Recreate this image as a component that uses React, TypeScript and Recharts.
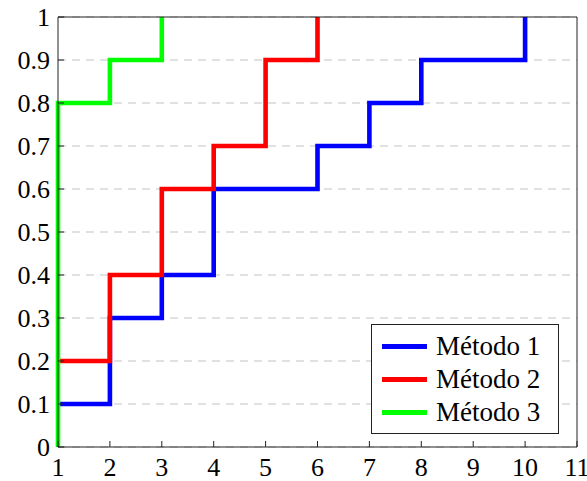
import { CartesianGrid, Line, LineChart, XAxis, YAxis } from 'recharts'

const xTicks = [1, 2, 3, 4, 5, 6, 7, 8, 9, 10, 11]
const yTicks = [0, 0.1, 0.2, 0.3, 0.4, 0.5, 0.6, 0.7, 0.8, 0.9, 1]

const metodo1X = [1, 2, 3, 4, 5, 6, 7, 8, 9, 10]
const metodo1Y = [0.1, 0.3, 0.4, 0.6, 0.6, 0.7, 0.8, 0.9, 0.9, 1]
const metodo2X = [1, 2, 3, 4, 5, 6]
const metodo2Y = [0.2, 0.4, 0.6, 0.7, 0.9, 1]
const metodo3X = [1, 1, 2, 3]
const metodo3Y = [0, 0.8, 0.9, 1]

const toPoints = (xs: number[], ys: number[]) => xs.map((x, i) => ({ x, y: ys[i] }))

const series = [
  { name: 'Método 1', color: '#0000ff', data: toPoints(metodo1X, metodo1Y) },
  { name: 'Método 2', color: '#ff0000', data: toPoints(metodo2X, metodo2Y) },
  { name: 'Método 3', color: '#00ff00', data: toPoints(metodo3X, metodo3Y) },
]

const font = '"Liberation Serif", serif'
const blank = () => ''

function LegendBox() {
  return (
    <div
      style={{
        position: 'absolute',
        left: 371,
        top: 324,
        width: 188,
        height: 110,
        boxSizing: 'border-box',
        border: '1px solid #222',
        background: '#fff',
        padding: '5px 0 0 10px',
        fontFamily: font,
        fontSize: 27,
        color: '#000',
        lineHeight: '33px',
      }}
    >
      {series.map((s) => (
        <div key={s.name} style={{ display: 'flex', alignItems: 'center' }}>
          <span style={{ display: 'inline-block', width: 45, height: 5, background: s.color, marginRight: 9 }} />
          <span>{s.name}</span>
        </div>
      ))}
    </div>
  )
}

export default function App() {
  return (
    <div style={{ position: 'absolute', left: 0, top: 0, width: 587, height: 481, background: '#fff' }}>
      <LineChart width={587} height={481} margin={{ top: 16, right: 9, bottom: 0, left: 0 }}>
        <CartesianGrid vertical={false} stroke="#c4c4c4" strokeDasharray="8 6" strokeWidth={1.2} />
        <XAxis
          xAxisId="top"
          orientation="top"
          type="number"
          dataKey="x"
          domain={[1, 11]}
          ticks={xTicks}
          interval={0}
          height={1}
          tickSize={-6}
          tickFormatter={blank}
          stroke="#222"
        />
        <YAxis
          yAxisId="right"
          orientation="right"
          type="number"
          domain={[0, 1]}
          ticks={yTicks}
          interval={0}
          width={1}
          tickSize={-6}
          tickFormatter={blank}
          stroke="#222"
        />
        <XAxis
          type="number"
          dataKey="x"
          domain={[1, 11]}
          ticks={xTicks}
          interval={0}
          height={34}
          tickSize={-6}
          tickMargin={17}
          stroke="#222"
          tick={{ fill: '#000', fontFamily: font, fontSize: 26 }}
          allowDuplicatedCategory={false}
        />
        <YAxis
          type="number"
          dataKey="y"
          domain={[0, 1]}
          ticks={yTicks}
          interval={0}
          width={58}
          tickSize={-6}
          tickMargin={14}
          stroke="#222"
          tick={{ fill: '#000', fontFamily: font, fontSize: 26 }}
        />
        {series.map((s) => (
          <Line
            key={s.name}
            name={s.name}
            data={s.data}
            dataKey="y"
            type="stepAfter"
            stroke={s.color}
            strokeWidth={4.6}
            dot={false}
            isAnimationActive={false}
          />
        ))}
      </LineChart>
      <LegendBox />
    </div>
  )
}
